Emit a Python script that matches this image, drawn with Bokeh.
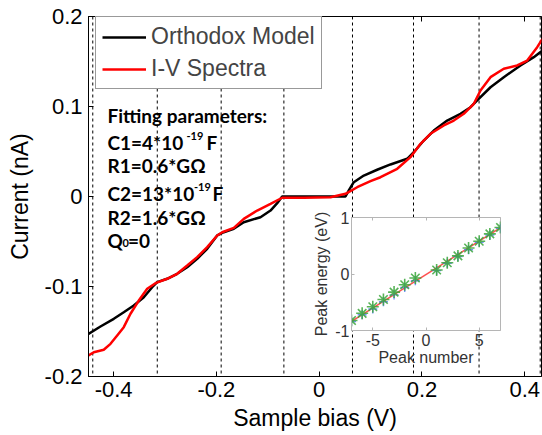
from bokeh.plotting import figure
from bokeh.models import Span, Label, Legend, LegendItem, LinearAxis, FixedTicker
from bokeh.layouts import column
from bokeh.embed import file_html
from bokeh.resources import INLINE

# ---------------- data ----------------
model_bias = [-0.4488, -0.4255, -0.3996, -0.3802, -0.3607, -0.3412, -0.3249, -0.3152,
              -0.2957, -0.2763, -0.2568, -0.2374, -0.2179, -0.1984, -0.1856, -0.1661,
              -0.1467, -0.1142, -0.0947, -0.0817, -0.0720, 0.0512, 0.0576, 0.0673,
              0.0868, 0.1128, 0.1387, 0.1712, 0.1840, 0.2035, 0.2230, 0.2490, 0.2749,
              0.2944, 0.3074, 0.3333, 0.3591, 0.3916, 0.4175, 0.4344]
model_current = [-0.1526, -0.1444, -0.1359, -0.1286, -0.1211, -0.1119, -0.1008, -0.0952,
                 -0.0914, -0.0859, -0.0786, -0.0692, -0.0581, -0.0433, -0.0397, -0.0359,
                 -0.0286, -0.0230, -0.0156, -0.0074, 0.0, 0.0, 0.0067, 0.0159,
                 0.0233, 0.0297, 0.0356, 0.0419, 0.0492, 0.0622, 0.0733, 0.0844, 0.0919,
                 0.0992, 0.1067, 0.1214, 0.1326, 0.1456, 0.1548, 0.1622]

spectra_bias = [-0.4488, -0.4385, -0.4191, -0.4060, -0.3930, -0.3802, -0.3671, -0.3510,
                -0.3346, -0.3185, -0.2957, -0.2763, -0.2568, -0.2374, -0.2179, -0.1984,
                -0.1887, -0.1661, -0.1467, -0.1206, -0.0947, -0.0720, -0.0300, 0.0220,
                0.0512, 0.0739, 0.0998, 0.1193, 0.1518, 0.1776, 0.1971, 0.2165, 0.2424,
                0.2619, 0.2813, 0.3008, 0.3138, 0.3333, 0.3591, 0.3852, 0.4047, 0.4241, 0.4344]
spectra_current = [-0.1767, -0.1730, -0.1703, -0.1637, -0.1544, -0.1452, -0.1303, -0.1156,
                   -0.1026, -0.0963, -0.0914, -0.0859, -0.0767, -0.0674, -0.0563, -0.0433,
                   -0.0397, -0.0348, -0.0248, -0.0156, -0.0081, -0.0014, -0.0014, -0.0008,
                   0.0030, 0.0103, 0.0170, 0.0214, 0.0308, 0.0437, 0.0586, 0.0697, 0.0789,
                   0.0844, 0.0919, 0.1030, 0.1178, 0.1326, 0.1419, 0.1456, 0.1511, 0.1659, 0.1752]

peak_bias = [-0.4405, -0.315, -0.1907, -0.0687, 0.0648, 0.1835, 0.311, 0.430]

x_ticks = [-0.4, -0.2, 0, 0.2, 0.4]
x_tick_labels = ["-0.4", "-0.2", "0", "0.2", "0.4"]
y_ticks = [-0.2, -0.1, 0, 0.1, 0.2]
y_tick_labels = ["-0.2", "-0.1", "0", "0.1", "0.2"]

peak_number = [-7, -6, -5, -4, -3, -2, -1, 1, 2, 3, 4, 5, 6, 7]
peak_energy_exp = [-0.823, -0.696, -0.58, -0.452, -0.32, -0.19, -0.07,
                   0.07, 0.2, 0.32, 0.46, 0.58, 0.71, 0.823]
peak_energy_model = [-0.84, -0.72, -0.62, -0.49, -0.37, -0.24, -0.12,
                     0.06, 0.19, 0.31, 0.43, 0.56, 0.69, 0.81]
fit_number = [-7, 7]
fit_energy = [-0.84, 0.82]

inset_x_ticks = [-5, 0, 5]
inset_x_labels = ["-5", "0", "5"]
inset_y_ticks = [-1, 0, 1]
inset_y_labels = ["-1", "0", "1"]

AXFONT = "Liberation Sans"

# ---------------- main figure ----------------
p = figure(width=542, height=435, x_range=(-0.4488, 0.4325), y_range=(-0.2, 0.2),
           output_backend="svg", toolbar_location=None,
           min_border_left=88, min_border_right=1, min_border_top=16, min_border_bottom=59)
p.xgrid.visible = False
p.ygrid.visible = False
p.outline_line_color = "black"
p.outline_line_width = 1
p.background_fill_color = "white"
p.border_fill_color = "white"

for v in peak_bias:
    p.add_layout(Span(location=v, dimension="height", line_color="black",
                      line_width=1, line_dash="3 3", level="underlay"))

r_model = p.line(model_bias, model_current, line_color="black", line_width=2.5)
r_spec = p.line(spectra_bias, spectra_current, line_color="#ff0000", line_width=2.5)

for ax, ticks, labels in ((p.xaxis[0], x_ticks, x_tick_labels), (p.yaxis[0], y_ticks, y_tick_labels)):
    ax.ticker = FixedTicker(ticks=ticks)
    ax.major_label_overrides = {t: s for t, s in zip(ticks, labels)}
    ax.major_tick_in = 5
    ax.major_tick_out = 0
    ax.minor_tick_line_color = None
    ax.axis_line_color = "black"
    ax.major_tick_line_color = "black"
    ax.major_label_text_font = AXFONT
    ax.major_label_text_font_size = "22px"
    ax.major_label_text_color = "black"
    ax.axis_label_text_font = AXFONT
    ax.axis_label_text_font_size = "23px"
    ax.axis_label_text_font_style = "normal"
    ax.axis_label_text_color = "black"

p.xaxis.axis_label = "Sample bias (V)"
p.yaxis.axis_label = "Current (nA)"
p.xaxis.major_label_standoff = 5
p.xaxis.axis_label_standoff = 5
p.yaxis.major_label_standoff = 6
p.yaxis.axis_label_standoff = 9

top_axis = LinearAxis(ticker=FixedTicker(ticks=x_ticks),
                      major_label_overrides={t: "" for t in x_ticks},
                      major_label_text_font_size="1px",
                      major_tick_in=5, major_tick_out=0, minor_tick_line_color=None,
                      axis_line_color="black", major_label_standoff=0)
p.add_layout(top_axis, "above")

legend = Legend(items=[LegendItem(label="Orthodox Model", renderers=[r_model]),
                       LegendItem(label="I-V Spectra", renderers=[r_spec])],
                location=(7, 287), orientation="vertical")
legend.label_text_font = AXFONT
legend.label_text_font_size = "23px"
legend.glyph_width = 44
legend.glyph_height = 26
legend.label_height = 26
legend.label_standoff = 5
legend.spacing = 5
legend.padding = 6
legend.margin = 0
legend.border_line_color = "#333333"
legend.border_line_width = 1
legend.background_fill_color = "white"
legend.background_fill_alpha = 1
p.add_layout(legend)

# fitting parameter text
TF = "Lato"
def lab(x, y, text, size="19px", **kw):
    p.add_layout(Label(x=x, y=y, text=text, text_font=TF, text_font_style="bold",
                       text_font_size=size, text_baseline="alphabetic", text_align="left",
                       text_color="black", **kw))

lab(-0.4119, 0.0900, "Fitting parameters:")
lab(-0.4119, 0.0603, "C1=4*10")
lab(-0.2582, 0.0672, "-19", size="11px")
lab(-0.2193, 0.0603, "F")
lab(-0.4119, 0.0344, "R1=0.6*G\u03a9")
lab(-0.4119, 0.0037, "C2=13*10")
lab(-0.2436, 0.0106, "-19", size="11px")
lab(-0.2076, 0.0037, "F")
lab(-0.4119, -0.0230, "R2=1.6*G\u03a9")
lab(-0.4119, -0.0489, "Q")
lab(-0.3827, -0.0522, "0", size="11px")
lab(-0.3720, -0.0489, "=0")

# ---------------- inset ----------------
# left/right borders equal to the main figure's so column alignment leaves both untouched
inset = figure(width=238, height=162, x_range=(-7, 7), y_range=(-1, 1),
               output_backend="svg", toolbar_location=None, sizing_mode="fixed",
               min_border_left=88, min_border_right=1, min_border_top=11, min_border_bottom=35)
inset.xgrid.visible = False
inset.ygrid.visible = False
inset.outline_line_color = "#b5b5b5"
inset.background_fill_color = "white"
inset.border_fill_alpha = 0

inset.line(fit_number, fit_energy, line_color="#ff5050", line_width=1.5)
inset.scatter(peak_number, peak_energy_model, marker="cross", size=9,
              line_color="#5070ff", line_width=1.4, line_alpha=0.8)
inset.scatter(peak_number, peak_energy_exp, marker="asterisk", size=12,
              line_color="#3aa63a", line_width=1.6, line_alpha=0.85)

for ax, ticks, labels in ((inset.xaxis[0], inset_x_ticks, inset_x_labels),
                          (inset.yaxis[0], inset_y_ticks, inset_y_labels)):
    ax.ticker = FixedTicker(ticks=ticks)
    ax.major_label_overrides = {t: s for t, s in zip(ticks, labels)}
    ax.major_tick_in = 3
    ax.major_tick_out = 0
    ax.minor_tick_line_color = None
    ax.axis_line_color = "#b5b5b5"
    ax.major_tick_line_color = "#b5b5b5"
    ax.major_label_text_font = AXFONT
    ax.major_label_text_font_size = "16px"
    ax.major_label_text_color = "#333333"
    ax.axis_label_text_font = AXFONT
    ax.axis_label_text_font_size = "16px"
    ax.axis_label_text_font_style = "normal"
    ax.axis_label_text_color = "#333333"
inset.xaxis.axis_label = "Peak number"
inset.yaxis.axis_label = "Peak energy (eV)"
inset.xaxis.major_label_standoff = 3
inset.xaxis.axis_label_standoff = 0
inset.yaxis.major_label_standoff = 2
inset.yaxis.axis_label_standoff = 2

inset_top = LinearAxis(ticker=FixedTicker(ticks=inset_x_ticks),
                       major_label_overrides={t: "" for t in inset_x_ticks},
                       major_label_text_font_size="1px",
                       major_tick_in=3, major_tick_out=0, minor_tick_line_color=None,
                       axis_line_color="#b5b5b5", major_tick_line_color="#b5b5b5",
                       major_label_standoff=0)
inset.add_layout(inset_top, "above")

if hasattr(inset.xaxis[0], "background_fill_color"):
    for ax in (inset.xaxis[0], inset_top):
        ax.background_fill_color = "white"
        ax.background_fill_alpha = 1

inset.styles = {"position": "absolute", "left": "263px", "top": "206px", "z-index": "10"}

root = column(p, inset, styles={"position": "relative"})

open("out.html", "w").write(file_html(root, INLINE))
